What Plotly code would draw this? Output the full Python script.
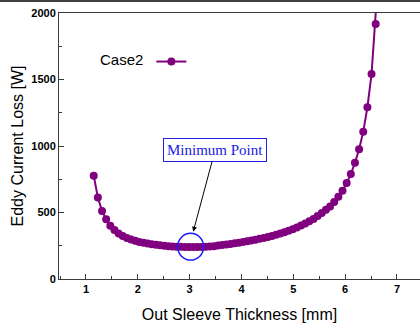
import plotly.graph_objects as go

# Data
thickness_mm = [1.15, 1.23, 1.31, 1.39, 1.47, 1.55, 1.63, 1.71, 1.79, 1.87,
                1.95, 2.03, 2.11, 2.19, 2.27, 2.35, 2.43, 2.51, 2.59, 2.67,
                2.75, 2.83, 2.91, 2.99, 3.07, 3.15, 3.23, 3.31, 3.39, 3.47,
                3.55, 3.63, 3.71, 3.79, 3.87, 3.95, 4.03, 4.11, 4.19, 4.27,
                4.35, 4.43, 4.51, 4.59, 4.67, 4.75, 4.83, 4.91, 4.99, 5.07,
                5.15, 5.23, 5.31, 5.39, 5.47, 5.55, 5.63, 5.71, 5.79, 5.87,
                5.95, 6.03, 6.11, 6.19, 6.27, 6.35, 6.43, 6.51, 6.59, 6.67]
eddy_loss_w = [777, 612, 511, 449, 401, 368, 343, 324, 309, 297,
               287, 279, 272, 266, 261, 257, 253, 250, 247, 245,
               243, 242, 241, 240, 240, 240, 241, 242, 244, 247,
               251, 255, 259, 263, 268, 273, 278, 283, 289, 295,
               302, 309, 316, 324, 333, 342, 352, 363, 375, 388,
               402, 417, 434, 452, 473, 497, 520, 545, 579, 618,
               664, 722, 789, 874, 975, 1108, 1291, 1541, 1917, 2450]
series_name = "Case2"
x_ticks = [1, 2, 3, 4, 5, 6, 7]
y_ticks = [0, 500, 1000, 1500, 2000]
min_point = (3.02, 243)
min_label = "Minimum Point"

purple = "#800080"
axis_col = "#3a3a3a"

fig = go.Figure()
fig.add_trace(go.Scatter(
    x=thickness_mm, y=eddy_loss_w, mode="lines+markers", name=" ",
    line=dict(color=purple, width=2),
    marker=dict(color=purple, size=8),
    showlegend=True,
))

fig.update_layout(
    width=420, height=327,
    margin=dict(l=59, r=0, t=13, b=48),
    paper_bgcolor="white", plot_bgcolor="white",
    font=dict(family="Arial", color="black"),
    legend=dict(
        title=dict(text=series_name, side="left", font=dict(size=15, color="black")),
        x=0.108, y=0.816, xanchor="left", yanchor="middle",
        bgcolor="rgba(0,0,0,0)", font=dict(size=14),
    ),
    xaxis=dict(
        range=[0.48, 7.445], tickvals=x_ticks, ticks="inside", ticklen=5,
        tickcolor=axis_col, showgrid=False, zeroline=False,
        showline=True, linecolor=axis_col, linewidth=1, mirror=True,
        minor=dict(dtick=0.5, ticks="inside", ticklen=3, tickcolor=axis_col, showgrid=False),
        tickfont=dict(size=11, weight="bold"),
        title=dict(text="Out Sleeve Thickness [mm]", font=dict(size=16), standoff=14),
    ),
    yaxis=dict(
        range=[0, 2000], tickvals=y_ticks, ticks="inside", ticklen=5,
        tickcolor=axis_col, showgrid=False, zeroline=False,
        showline=True, linecolor=axis_col, linewidth=1,
        minor=dict(dtick=250, ticks="inside", ticklen=3, tickcolor=axis_col, showgrid=False),
        tickfont=dict(size=11, weight="bold"),
        title=dict(text="Eddy Current Loss [W]", font=dict(size=16), standoff=3),
    ),
)

# circle around minimum
fig.add_shape(type="circle", xref="x", yref="y",
              x0=min_point[0] - 0.25, x1=min_point[0] + 0.25,
              y0=min_point[1] - 101, y1=min_point[1] + 101,
              line=dict(color="#1a1aff", width=1.5))

# annotation with arrow
fig.add_annotation(
    x=3.07, y=356, xref="x", yref="y",
    text=min_label, showarrow=True, ax=22, ay=-82,
    arrowhead=2, arrowsize=1, arrowwidth=1, arrowcolor="black",
    font=dict(family="Liberation Serif", size=15, color="#2020e0"),
    bordercolor="#2020e0", borderwidth=1, borderpad=3, bgcolor="white",
)

# top frame line of the figure
fig.add_shape(type="line", xref="paper", yref="paper",
              x0=-59 / 361, x1=1, y0=1 + 12 / 266, y1=1 + 12 / 266,
              line=dict(color="black", width=1.5))

fig.write_html("out.html")
